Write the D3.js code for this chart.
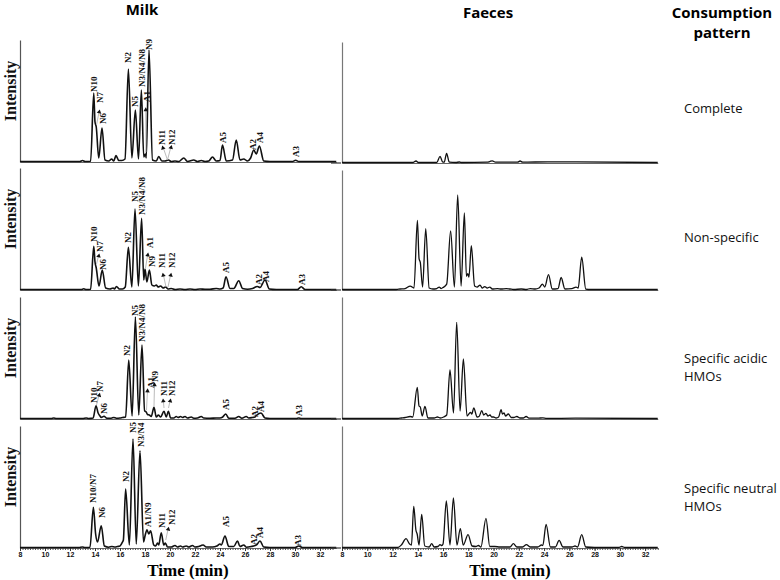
<!DOCTYPE html>
<html><head><meta charset="utf-8">
<script src="https://cdn.jsdelivr.net/npm/d3@7"></script>
<style>body{margin:0;background:#fff}</style>
</head><body><svg id="c" width="780" height="580"></svg>
<script>
// ---------- data (time in min, intensity in arbitrary units) ----------
const timeTicks = [8,10,12,14,16,18,20,22,24,26,28,30,32];
const columnTitles = ["Milk","Faeces"];
const patternTitle = ["Consumption","pattern"];
const patterns = [["Complete"],["Non-specific"],["Specific acidic","HMOs"],["Specific neutral","HMOs"]];
const yLabel = "Intensity";
const xLabel = "Time (min)";

const milkComplete = [[8,0.5],[12.8,0.5],[13.0,1.5],[13.2,0.5],[13.65,0.8],[13.9,69],[14.0,40],[14.1,35],[14.3,4],[14.56,34],[14.8,2],[15.1,1],[15.33,3],[15.5,1],[15.68,6.5],[15.9,1.5],[16.15,1.5],[16.4,3],[16.67,93],[16.95,4],[17.23,52],[17.48,3],[17.71,72],[17.9,5],[18.03,8],[18.1,4],[18.32,112],[18.6,2],[18.9,1],[19.1,5.5],[19.35,1],[19.6,1],[19.87,2],[20.1,0.5],[20.4,1],[20.7,0.5],[21.1,4],[21.4,0.5],[21.9,2],[22.2,0.5],[22.5,1.5],[22.8,0.5],[23.1,1],[23.4,5],[23.7,1],[24.0,1.5],[24.2,17],[24.5,1],[25.0,2],[25.3,22],[25.6,2],[25.9,3],[26.2,1],[26.45,4],[26.7,12],[26.9,8],[27.15,16],[27.5,1],[28,0.5],[29.8,0.5],[30.05,1.8],[30.3,0.5],[33.3,0.5]];
const milkNonSpecific = [[8,0.5],[12.9,0.5],[13.1,1.2],[13.3,0.5],[13.65,0.8],[13.9,43.6],[14.0,28],[14.1,22],[14.32,4],[14.58,20],[14.85,2],[15.2,1],[15.45,2],[15.55,1],[15.72,3.5],[15.95,1],[16.2,1],[16.42,3],[16.67,42.6],[16.95,3],[17.2,81],[17.47,4],[17.73,71.6],[17.9,10],[18.0,21],[18.15,8],[18.35,20],[18.55,5],[18.75,4],[18.9,5],[19.05,3],[19.25,4],[19.45,2],[19.65,3],[19.85,1],[20.1,1.5],[20.4,0.5],[20.8,1],[21.2,0.5],[21.6,1],[22.0,0.5],[22.4,1],[22.8,0.8],[23.2,0.8],[23.7,1.5],[24.0,1],[24.25,2],[24.48,13.3],[24.8,1.5],[25.1,1.5],[25.5,9.3],[25.8,1.5],[26.2,0.8],[26.6,1.5],[26.85,3],[27.0,3.5],[27.2,2.5],[27.6,10],[27.95,1],[28.5,0.5],[30.2,0.5],[30.5,3.3],[30.8,0.5],[33.3,0.5]];
const milkAcidic = [[8,0.5],[10.5,0.5],[10.7,1],[10.9,0.5],[13.0,0.5],[13.3,1],[13.5,0.5],[13.85,1],[14.08,13.3],[14.25,6],[14.4,3],[14.5,1.5],[14.72,2.7],[14.95,0.8],[15.3,0.8],[15.5,1.5],[15.7,0.8],[16.0,1],[16.2,1.5],[16.45,2],[16.7,59],[16.97,3],[17.23,102],[17.5,4],[17.76,74],[17.97,8],[18.08,7.3],[18.2,4.5],[18.35,4],[18.5,2.5],[18.72,11.7],[18.9,2],[19.07,4],[19.25,2],[19.52,7.7],[19.7,2],[19.87,7.7],[20.05,1],[20.3,1],[20.5,2.5],[20.65,1.5],[20.85,2.5],[21.0,1.5],[21.2,2.5],[21.4,1],[21.7,2],[21.9,0.8],[22.2,1],[22.5,2.5],[22.7,1],[23.2,0.8],[23.7,1],[24.0,1],[24.22,2],[24.46,5],[24.7,0.8],[25.2,0.8],[25.5,2.5],[25.75,0.8],[26.1,2.5],[26.3,1],[26.6,1.5],[26.8,2],[26.95,4],[27.28,6],[27.6,1],[28,0.5],[30.1,0.5],[30.3,1],[30.5,0.5],[33.3,0.5]];
const milkNeutral = [[8,0.5],[12.7,0.5],[13.0,1],[13.2,0.5],[13.6,0.8],[13.87,40.6],[14.05,14],[14.2,6],[14.5,22.3],[14.75,2],[15.1,0.8],[15.35,1.5],[15.6,1],[15.8,1.5],[16.0,2],[16.2,6],[16.27,8],[16.45,59],[16.75,3],[17.04,109],[17.3,4],[17.6,97.3],[17.88,6],[18.0,12],[18.16,18.3],[18.3,14],[18.45,17.3],[18.7,3],[18.85,2],[19.0,5],[19.1,3],[19.3,15.3],[19.5,3],[19.63,5],[19.8,1],[20.1,1],[20.4,2.5],[20.6,1],[20.85,2],[21.0,1],[21.3,2],[21.5,1],[21.8,2.5],[22.0,1],[22.3,1.5],[22.5,2.5],[22.65,3],[22.9,1],[23.4,1],[23.75,2],[24.0,4],[24.1,3],[24.4,12],[24.7,1.5],[25.1,1.5],[25.4,7],[25.6,1.5],[25.9,3],[26.1,0.8],[26.5,1.5],[26.8,2.5],[26.95,3.5],[27.2,7],[27.5,1],[28,0.5],[30.0,0.5],[30.3,2],[30.6,0.5],[33.3,0.5]];

const faecesComplete = [[8,0.5],[13.6,0.5],[13.86,2],[14.05,0.5],[15.5,0.5],[15.76,6.7],[15.98,0.8],[16.1,1],[16.28,9.7],[16.5,0.8],[17.0,0.5],[17.3,1],[17.5,0.5],[19.5,0.8],[19.7,1.5],[19.9,2.2],[20.15,0.8],[21.9,0.8],[22.1,2],[22.3,0.8],[24.3,1.2],[26.6,1.2],[33,0.5]];
const faecesNonSpecific = [[8,0.5],[12.3,0.5],[12.6,1],[13.0,1.5],[13.4,4],[13.7,2],[13.97,70.7],[14.1,32],[14.2,28],[14.38,3],[14.63,62.3],[14.9,2],[15.2,1],[15.5,1.5],[15.7,3],[15.85,1.5],[16.0,2.5],[16.29,6],[16.6,60],[16.9,3],[17.16,96.7],[17.43,4],[17.69,78.3],[17.85,14],[17.96,16.7],[18.05,13],[18.24,45],[18.5,4],[18.7,3],[18.93,5],[19.1,2],[19.3,3.5],[19.5,2],[19.7,3],[19.9,1],[20.3,1.5],[20.6,1],[21.0,1.5],[21.3,1],[21.6,0.5],[22.2,1],[22.6,0.5],[22.9,1.5],[23.3,1],[23.6,2],[23.87,6],[24.05,3],[24.35,15.7],[24.65,1],[25.1,1.5],[25.35,12.7],[25.65,1],[26.2,1.5],[26.53,3],[26.7,2],[26.98,33.3],[27.3,1],[27.7,0.5],[33,0.5]];
const faecesAcidic = [[8,0.5],[12.4,0.5],[12.7,1],[13.0,1.5],[13.39,2.5],[13.6,2],[13.96,31.7],[14.1,13],[14.2,12],[14.35,3],[14.57,12.7],[14.8,1],[15.3,1],[15.55,2],[15.8,1],[16.05,2],[16.29,4],[16.55,49],[16.83,6],[17.08,96.7],[17.35,8],[17.61,60],[17.9,3],[18.17,6.7],[18.28,5],[18.43,11],[18.7,2],[18.85,2.5],[19.07,8.3],[19.22,4],[19.4,5.7],[19.55,3],[19.72,4],[19.85,2],[20.0,2],[20.2,1],[20.4,2],[20.6,9.3],[20.7,5],[20.83,6],[20.95,3],[21.17,5],[21.4,1.5],[21.6,1.5],[21.84,2.5],[22.1,1],[22.35,1],[22.58,2.5],[22.8,0.8],[23.5,0.8],[23.9,1.2],[24.2,0.6],[26.5,0.8],[33,0.5]];
const faecesNeutral = [[8,0.5],[12.4,0.5],[12.7,3],[13.07,9.3],[13.35,4],[13.5,3],[13.68,41.7],[13.85,18],[13.95,14],[14.1,3],[14.31,33.7],[14.55,2],[14.9,1],[15.1,4.3],[15.3,1],[15.6,1.5],[15.76,3.3],[15.9,2.5],[16.0,4],[16.26,47],[16.55,3],[16.82,50],[17.1,3],[17.37,19.3],[17.6,3],[17.98,13.3],[18.3,2],[18.6,1.5],[18.8,2.5],[19.0,1],[19.4,29.7],[19.7,1.5],[20.1,1.5],[20.5,1],[21.3,1],[21.57,4.3],[21.85,1],[22.3,1],[22.6,3.3],[22.9,1],[23.5,1],[23.8,3],[23.9,2.5],[24.16,23.7],[24.5,1],[24.9,1],[25.19,7.7],[25.5,1],[26.2,1],[26.45,2],[26.65,1],[26.98,13.3],[27.3,1],[28,0.5],[29.9,0.5],[30.15,1.5],[30.4,0.5],[33,0.5]];

// peak labels: [name, time, intensity at label start]
const milkCompleteLabels = [["N10",13.92,70],["N7",14.4,59],["N6",14.66,38],["N2",16.66,99],["N5",17.2,55],["N3/N4/N8",17.74,75],["A1",18.14,60],["N9",18.32,112],["N11",19.38,17],["N12",20.14,17],["A5",24.26,19],["A2",26.66,12],["A4",27.2,19],["A3",30.08,5]];
const milkNonSpecificLabels = [["N10",13.92,48],["N7",14.4,38],["N6",14.66,20],["N2",16.66,47],["N5",17.2,88],["N3/N4/N8",17.78,75],["A1",18.4,42],["N9",18.54,23],["N11",19.38,22],["N12",20.14,22],["A5",24.48,17],["A2",27.07,5],["A4",27.68,8],["A3",30.54,5]];
const milkAcidicLabels = [["N10",13.94,16],["N7",14.4,27],["N6",14.74,5],["N2",16.54,63],["N5",17.2,103],["N3/N4/N8",17.78,77],["A1",18.46,31],["N9",18.8,37],["N11",19.47,23],["N12",20.14,23],["A5",24.46,9],["A2",26.8,2],["A4",27.28,7],["A3",30.32,3]];
const milkNeutralLabels = [["N10/N7",13.86,45],["N6",14.58,30],["N2",16.48,66],["N5",17.02,115],["N3/N4",17.66,101],["A1/N9",18.26,21],["N11",19.34,20],["N12",20.14,23],["A5",24.48,21],["A2",26.72,3],["A4",27.2,10],["A3",30.26,2]];
// arrows: [head time, head intensity, tail time, tail intensity]
const milkCompleteArrows = [[14.34,51,14.12,37],[18.06,53,18.08,10],[19.44,15,19.8,2],[20.08,15.5,19.8,2]];
const milkNonSpecificArrows = [[14.3,35,14.12,26],[18.22,36,18.04,22],[19.46,15.7,19.68,3],[20.06,15.7,19.84,3]];
const milkAcidicArrows = [[14.34,24.7,14.12,14],[18.2,29,18.12,9],[18.76,35,18.72,13],[19.46,19,19.52,11],[20.02,19,19.88,11]];
const milkNeutralArrows = [[19.86,19.7,19.66,8]];

// ---------- layout ----------
const svg = d3.select("#c");
const xL = d3.scaleLinear([8, 33.3], [20, 336.25]);
const xR = d3.scaleLinear([8, 33], [342, 657.75]);
const rowsL = [[40,162],[168,290],[297,419],[426,548]];
const rowsR = [[42,163],[170,290],[297,419],[426,548]];
const milkSeries = [milkComplete, milkNonSpecific, milkAcidic, milkNeutral];
const faecesSeries = [faecesComplete, faecesNonSpecific, faecesAcidic, faecesNeutral];
const milkLabels = [milkCompleteLabels, milkNonSpecificLabels, milkAcidicLabels, milkNeutralLabels];
const milkArrows = [milkCompleteArrows, milkNonSpecificArrows, milkAcidicArrows, milkNeutralArrows];

const serif = "'Liberation Serif','Times New Roman',serif";
const sans = "'Open Sans','Noto Sans',sans-serif";

function panel(x, row, data, isBottom, sw, axisColor, baseStart) {
  const [top, base] = row;
  const y = d3.scaleLinear([0, 122], [base, top]);
  const g = svg.append("g");
  g.append("g").attr("transform", `translate(${x.range()[0]},0)`)
    .call(d3.axisLeft(y).tickValues([]).tickSizeOuter(0))
    .select(".domain").attr("stroke", axisColor).attr("stroke-width", 1.2);
  const ax = g.append("g").attr("transform", `translate(0,${base})`);
  if (isBottom) {
    ax.call(d3.axisBottom(x).tickValues(d3.range(80, 331, 2).map(v => v / 10)).tickSize(2).tickSizeOuter(0).tickFormat(""));
    const maj = g.append("g").attr("transform", `translate(0,${base})`)
      .call(d3.axisBottom(x).tickValues(timeTicks).tickSize(3).tickSizeOuter(0).tickPadding(1).tickFormat(d3.format("d")));
    maj.select(".domain").remove();
    maj.selectAll("text").attr("font-family", "Arial,'Liberation Sans',sans-serif").attr("font-weight", "bold").attr("font-size", 7).attr("fill", "#111");
    maj.selectAll("line").attr("stroke", "#333");
    ax.selectAll("line").attr("stroke", "#555");
  } else {
    ax.call(d3.axisBottom(x).tickValues([]).tickSizeOuter(0));
  }
  ax.select(".domain").attr("stroke", "#666").attr("stroke-width", 1);
  if (baseStart !== undefined) {
    g.append("line").attr("x1", baseStart).attr("x2", x.range()[0] - 1).attr("y1", base).attr("y2", base).attr("stroke", "#333").attr("stroke-width", 1.2);
  }
  const line = d3.line().x(d => x(d[0])).y(d => y(d[1])).curve(d3.curveMonotoneX);
  g.append("path").datum(data).attr("d", line).attr("fill", "none").attr("stroke", "#111").attr("stroke-width", sw).attr("stroke-linejoin", "round");
  return {g, y};
}

milkSeries.forEach((data, i) => {
  const {g, y} = panel(xL, rowsL[i], data, i === 3, 1.6, "#555");
  milkArrows[i].forEach(a => {
    const hx = xL(a[0]), hy = y(a[1]), tx = xL(a[2]), ty = y(a[3]);
    g.append("line").attr("x1", hx).attr("y1", hy).attr("x2", tx).attr("y2", ty).attr("stroke", "#aaa").attr("stroke-width", 0.8);
    const ang = Math.atan2(hy - ty, hx - tx) * 180 / Math.PI + 90;
    g.append("path").attr("d", d3.symbol(d3.symbolTriangle, 9)())
      .attr("transform", `translate(${hx},${hy + 1}) rotate(${ang})`).attr("fill", "#111");
  });
  milkLabels[i].forEach(l => {
    g.append("text").attr("transform", `translate(${xL(l[1])},${y(l[2])}) rotate(-90)`)
      .attr("dy", "0.35em").attr("font-family", serif).attr("font-weight", "bold").attr("font-size", 9).attr("fill", "#111").text(l[0]);
  });
  const [top, base] = rowsL[i];
  svg.append("text").attr("transform", `translate(10,${(top + base) / 2 - 10}) rotate(-90)`)
    .attr("text-anchor", "middle").attr("dy", "0.35em").attr("font-family", serif).attr("font-weight", "bold").attr("font-size", 16).attr("fill", "#111").text(yLabel);
});

faecesSeries.forEach((data, i) => {
  panel(xR, rowsR[i], data, i === 3, 1.3, "#777", 331);
});

svg.append("text").attr("x", 142).attr("y", 15).attr("text-anchor", "middle").attr("font-family", sans).attr("font-weight", "bold").attr("font-size", 15).text(columnTitles[0]);
svg.append("text").attr("x", 488).attr("y", 18).attr("text-anchor", "middle").attr("font-family", sans).attr("font-weight", "bold").attr("font-size", 15).text(columnTitles[1]);
patternTitle.forEach((t, k) => {
  svg.append("text").attr("x", 722).attr("y", 18 + k * 20).attr("text-anchor", "middle").attr("font-family", sans).attr("font-weight", "bold").attr("font-size", 15).text(t);
});
const patternBase = [113, 242, 363, 493];
patterns.forEach((lines, i) => {
  lines.forEach((t, k) => {
    svg.append("text").attr("x", 684).attr("y", patternBase[i] + k * 18).attr("font-family", sans).attr("font-size", 13).attr("fill", "#111").text(t);
  });
});
svg.append("text").attr("x", 188).attr("y", 576).attr("text-anchor", "middle").attr("font-family", serif).attr("font-weight", "bold").attr("font-size", 17).text(xLabel);
svg.append("text").attr("x", 510).attr("y", 576).attr("text-anchor", "middle").attr("font-family", serif).attr("font-weight", "bold").attr("font-size", 17).text(xLabel);
</script></body></html>
